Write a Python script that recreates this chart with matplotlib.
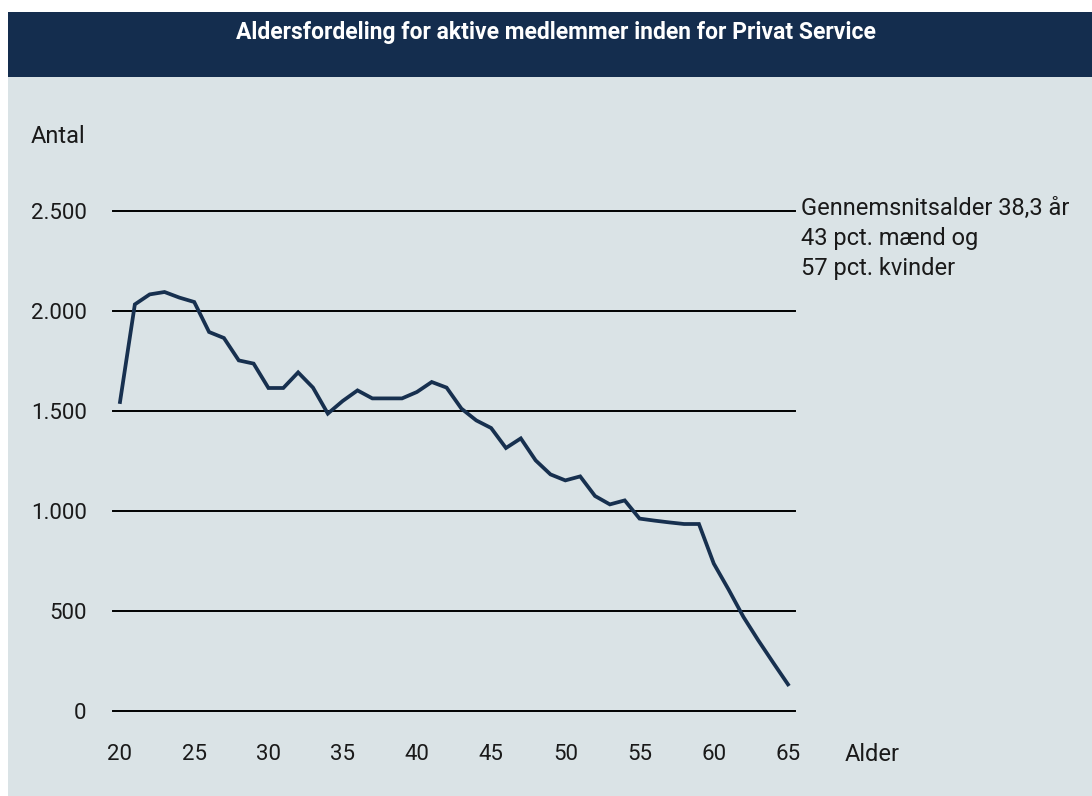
import numpy as np
import matplotlib
matplotlib.use("Agg")
import matplotlib.pyplot as plt
from matplotlib.patches import Rectangle

# data
ages = list(range(20, 66))
members = [1545, 2033, 2083, 2095, 2067, 2045, 1895, 1865, 1753, 1737,
           1615, 1615, 1693, 1617, 1487, 1550, 1603, 1563, 1563, 1563,
           1595, 1645, 1617, 1512, 1453, 1415, 1315, 1363, 1253, 1183,
           1153, 1173, 1075, 1033, 1053, 962, 952, 943, 935, 935,
           737, 607, 470, 353, 242, 133]
yticks = [0, 500, 1000, 1500, 2000, 2500]
xticks = [20, 25, 30, 35, 40, 45, 50, 55, 60, 65]
title = "Aldersfordeling for aktive medlemmer inden for Privat Service"
note_lines = ["Gennemsnitsalder 38,3 år", "43 pct. mænd og", "57 pct. kvinder"]

W, H = 1092, 796
NAVY = '#142d4e'
BG = '#dae3e6'
TXT = '#1a1a1a'
LINE = '#17304f'

plt.rcParams['font.family'] = ['Roboto', 'DejaVu Sans']

def fx(x):
    return x / W

def fy(y):
    return 1 - y / H

fig = plt.figure(figsize=(W / 100, H / 100), dpi=100, facecolor='white')

# background panels
fig.patches.append(Rectangle((fx(8), 0), 1 - fx(8), fy(12), transform=fig.transFigure,
                             facecolor=BG, edgecolor='none', zorder=-3))
fig.patches.append(Rectangle((fx(8), fy(77)), 1 - fx(8), fy(12) - fy(77), transform=fig.transFigure,
                             facecolor=NAVY, edgecolor='none', zorder=-2))
fig.text(fx(556), fy(39), title, color='white', fontsize=16.5, fontweight='bold',
         ha='center', va='baseline')

# axes: x 113..795 px, y 211..711 px
ax = fig.add_axes([fx(113), fy(711), fx(795) - fx(113), fy(211) - fy(711)])
ax.set_facecolor('none')
ax.set_zorder(2)
px_per_year = (788 - 120) / 45
ax.set_xlim(20 - 7 / px_per_year, 65 + 7 / px_per_year)
ax.set_ylim(0, 2500)

for v in yticks:
    ax.axhline(v, color='black', lw=1.4, zorder=1, clip_on=False)

ax.plot(ages, members, color=LINE, lw=2.7, zorder=3, solid_joinstyle='miter',
        clip_on=False)

for s in ax.spines.values():
    s.set_visible(False)

ax.set_yticks(yticks)
ax.set_yticklabels([f"{v:,}".replace(",", ".") for v in yticks])
ax.set_xticks(xticks)
ax.set_xticklabels([str(v) for v in xticks])
ax.tick_params(axis='both', length=0, labelsize=16, labelcolor=TXT)
ax.tick_params(axis='y', pad=19)
ax.tick_params(axis='x', pad=24)

fig.text(fx(31), fy(143), "Antal", fontsize=17, color=TXT, ha='left', va='baseline')
fig.text(fx(845), fy(761), "Alder", fontsize=17, color=TXT, ha='left', va='baseline')

for i, line in enumerate(note_lines):
    fig.text(fx(801), fy(215 + 30 * i), line, fontsize=17, color=TXT,
             ha='left', va='baseline')

fig.savefig('out.png', dpi=100, facecolor='white')
